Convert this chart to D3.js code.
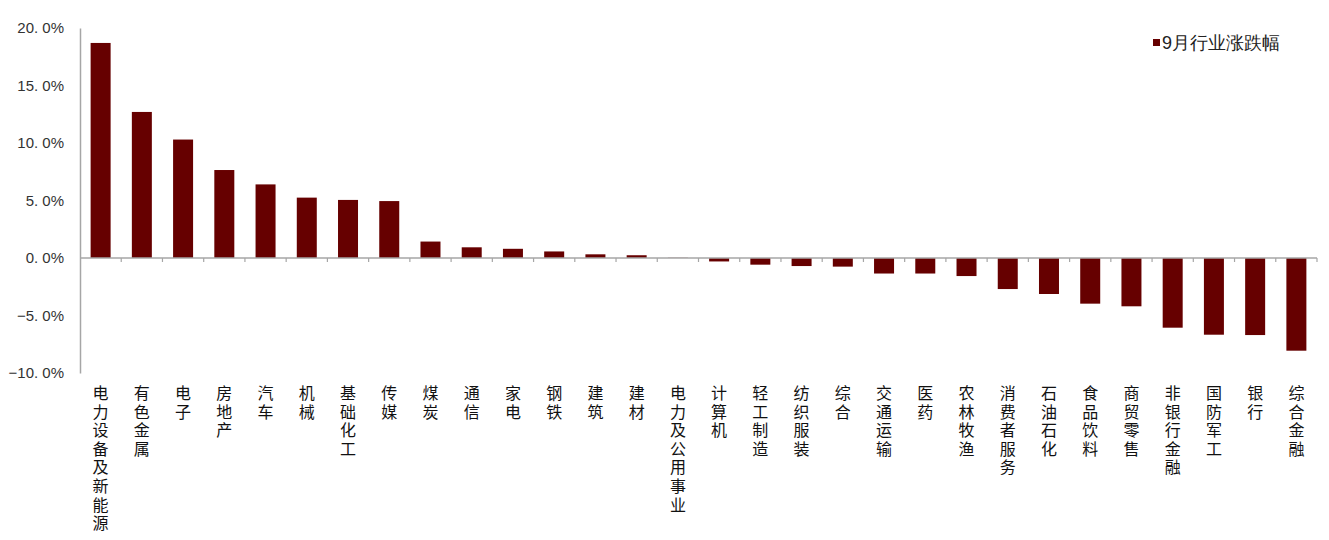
<!DOCTYPE html>
<html>
<head>
<meta charset="utf-8">
<script src="https://cdn.jsdelivr.net/npm/d3@7"></script>
<style>
  body { margin: 0; background: #fff; }
  svg text { font-family: "Liberation Sans", Arial, sans-serif; }
</style>
</head>
<body>
<div id="chart-container"></div>
<script>
   // industries in chart order
   const industries = ["电力设备及新能源", "有色金属", "电子", "房地产", "汽车", "机械", "基础化工", "传媒",
       "煤炭", "通信", "家电", "钢铁", "建筑", "建材", "电力及公用事业", "计算机", "轻工制造", "纺织服装",
       "综合", "交通运输", "医药", "农林牧渔", "消费者服务", "石油石化", "食品饮料", "商贸零售",
       "非银行金融", "国防军工", "银行", "综合金融"];
   // September change, %
   const changes = [18.7, 12.7, 10.3, 7.65, 6.4, 5.25, 5.05, 4.95,
       1.43, 0.93, 0.8, 0.57, 0.32, 0.24, 0.02, -0.3, -0.58, -0.7,
       -0.75, -1.35, -1.35, -1.57, -2.7, -3.13, -3.97, -4.2,
       -6.06, -6.67, -6.7, -8.06];
   const yTicks = [-10, -5, 0, 5, 10, 15, 20];
   const seriesName = "9月行业涨跌幅";

   const margin = { left: 80, top: 28, right: 12, bottom: 167 };
   const fullW = 1329, fullH = 540;
   const width = fullW - margin.left - margin.right;
   const height = fullH - margin.top - margin.bottom;

   const data = industries.map((d, i) => ({ name: d, value: changes[i] }));

   const x = d3.scaleBand()
       .domain(industries)
       .range([0, width])
       .paddingInner(0.515)
       .paddingOuter(0.2575);

   const y = d3.scaleLinear()
       .domain([-10, 20])
       .range([height, 0]);

   const svg = d3.select("#chart-container")
       .append("svg")
       .attr("width", fullW)
       .attr("height", fullH)
       .append("g")
       .attr("transform", `translate(${margin.left},${margin.top})`);

   // bars
   svg.selectAll("rect.bar")
       .data(data)
       .join("rect")
       .attr("class", "bar")
       .attr("x", d => x(d.name))
       .attr("width", x.bandwidth())
       .attr("y", d => y(Math.max(0, d.value)))
       .attr("height", d => Math.abs(y(d.value) - y(0)))
       .attr("fill", "#660000");

   // y axis
   const yAxis = svg.append("g")
       .call(d3.axisLeft(y)
           .tickValues(yTicks)
           .tickSize(0)
           .tickPadding(16)
           .tickFormat(d => d3.format(".1f")(d).replace(".", ". ") + "%"));
   yAxis.select(".domain").attr("stroke", "#a6a6a6").attr("stroke-width", 1.5);
   yAxis.selectAll("text")
       .attr("font-size", 15)
       .attr("fill", "#333")
       .attr("font-family", "'Liberation Sans', Arial, sans-serif");

   // zero line, ticks between categories
   const zero = svg.append("g").attr("transform", `translate(0,${y(0)})`);
   zero.append("line")
       .attr("x1", 0).attr("x2", width)
       .attr("stroke", "#a6a6a6").attr("stroke-width", 1.5);
   const edge = d => x(d) + (x.bandwidth() + x.step()) / 2;
   zero.selectAll("line.tick")
       .data(industries)
       .join("line")
       .attr("class", "tick")
       .attr("x1", edge)
       .attr("x2", edge)
       .attr("y1", 0).attr("y2", 4)
       .attr("stroke", "#a6a6a6").attr("stroke-width", 1.2);

   // vertical category labels
   svg.append("g")
       .selectAll("text")
       .data(industries)
       .join("text")
       .attr("x", d => x(d) + x.bandwidth() / 2)
       .attr("y", height + 12)
       .attr("style", "writing-mode: vertical-rl; text-orientation: upright; letter-spacing: 2.6px; font-family: 'Noto Sans CJK SC', sans-serif;")
       .attr("font-size", 16)
       .attr("fill", "#111")
       .text(d => d);

   // legend
   const legend = svg.append("g").attr("transform", `translate(${width - 164},15)`);
   legend.append("rect")
       .attr("x", 0).attr("y", -4)
       .attr("width", 7).attr("height", 7)
       .attr("fill", "#660000");
   legend.append("text")
       .attr("x", 9).attr("y", 0)
       .attr("dy", "0.35em")
       .attr("font-size", 18)
       .attr("fill", "#222")
       .attr("font-family", "'Noto Sans CJK SC', sans-serif")
       .text(seriesName);
</script>
</body>
</html>
